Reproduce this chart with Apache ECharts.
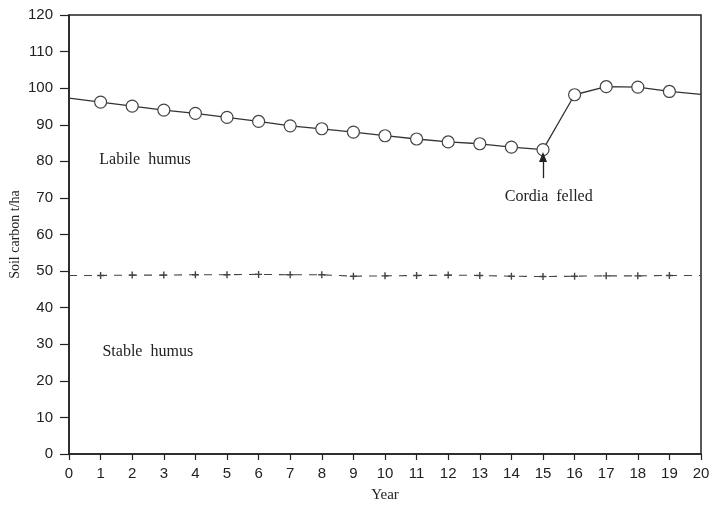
<!DOCTYPE html>
<html>
<head>
<meta charset="utf-8">
<script src="https://cdn.jsdelivr.net/npm/echarts@6/dist/echarts.min.js"></script>
<style>
html,body{margin:0;padding:0;background:#fff;}
#chart{width:713px;height:505px;}
</style>
</head>
<body>
<div id="chart"></div>
<script>
// 年份
var years = [0,1,2,3,4,5,6,7,8,9,10,11,12,13,14,15,16,17,18,19,20];
// labile humus (t/ha)
var labile = [97.3,96.2,95.1,94.0,93.1,92.0,90.9,89.7,88.9,88.0,87.0,86.1,85.3,84.8,83.9,83.2,98.2,100.4,100.3,99.1,98.3];
// stable humus (t/ha)
var stable = [48.8,48.8,48.9,48.9,49.0,49.0,49.1,49.0,49.0,48.6,48.7,48.8,48.9,48.8,48.6,48.5,48.6,48.7,48.7,48.8,48.8];
var yTicks = [0,10,20,30,40,50,60,70,80,90,100,110,120];

var ink = '#222';
var serif = '"Liberation Serif","DejaVu Serif",serif';
var sans = '"Liberation Sans",Arial,sans-serif';

function pairs(arr){
	var out=[];
	for(var i=0;i<years.length;i++){
		out.push([years[i], arr[i]]);
	}
	return out;
}

var option = {
	backgroundColor: '#fff',
	animation: false,
	grid: {left: 69, right: 12, top: 15, bottom: 51, outerBoundsMode: 'none', containLabel: false,
		show: true, borderColor: ink, borderWidth: 1.5, backgroundColor: 'transparent'},
	xAxis: {
		type: 'value', min: 0, max: 20, interval: 1,
		name: 'Year', nameLocation: 'middle', nameGap: 34,
		nameTextStyle: {fontFamily: serif, fontSize: 15, color: ink},
		axisLine: {lineStyle: {color: ink, width: 1.5}},
		axisTick: {show: true, inside: false, length: 6, lineStyle: {color: ink, width: 1.2}},
		axisLabel: {fontFamily: sans, fontSize: 15, color: ink, margin: 12},
		splitLine: {show: false}
	},
	yAxis: {
		type: 'value', min: yTicks[0], max: yTicks[yTicks.length-1], interval: 10,
		name: 'Soil carbon t/ha', nameLocation: 'middle', nameGap: 47, nameRotate: 90, nameMoveOverlap: false,
		nameTextStyle: {fontFamily: serif, fontSize: 14, color: ink},
		axisLine: {lineStyle: {color: ink, width: 1.5}},
		axisTick: {show: true, inside: false, length: 9, lineStyle: {color: ink, width: 1.2}},
		axisLabel: {fontFamily: sans, fontSize: 15, color: ink, margin: 16},
		splitLine: {show: false}
	},
	series: [
		{
			name: 'Labile humus',
			type: 'line',
			data: pairs(labile),
			lineStyle: {color: '#333', width: 1.3},
			symbol: 'circle',
			symbolSize: function(v){ return (v[0]==0 || v[0]==20) ? 0 : 12; },
			itemStyle: {color: '#fff', borderColor: '#444', borderWidth: 1.2},
			markPoint: {
				symbolSize: 0,
				data: [
					{coord: [0.8, 80.3], label: {show: true, formatter: 'Labile  humus', position: 'right', fontFamily: serif, fontSize: 16, color: ink}},
					{coord: [0.9, 28], label: {show: true, formatter: 'Stable  humus', position: 'right', fontFamily: serif, fontSize: 16, color: ink}},
					{coord: [15.18, 70.3], label: {show: true, formatter: 'Cordia  felled', position: 'inside', fontFamily: serif, fontSize: 16, color: ink}}
				]
			},
			markLine: {
				silent: true,
				symbol: ['none', 'triangle'],
				symbolSize: [8, 10],
				lineStyle: {color: ink, width: 1.3, type: 'solid'},
				label: {show: false},
				data: [[{coord: [15, 75.4]}, {coord: [15, 81.2]}]]
			},
			z: 3
		},
		{
			name: 'Stable humus',
			type: 'line',
			data: pairs(stable),
			lineStyle: {color: '#444', width: 1.1, type: [8, 7]},
			symbol: 'path://M4,0H6V4H10V6H6V10H4V6H0V4H4Z',
			symbolSize: function(v){ return (v[0]==0 || v[0]==20) ? 0 : 7; },
			itemStyle: {color: '#444'}
		}
	]
};

var myChart = echarts.init(document.getElementById('chart'));
myChart.setOption(option);
</script>
</body>
</html>
